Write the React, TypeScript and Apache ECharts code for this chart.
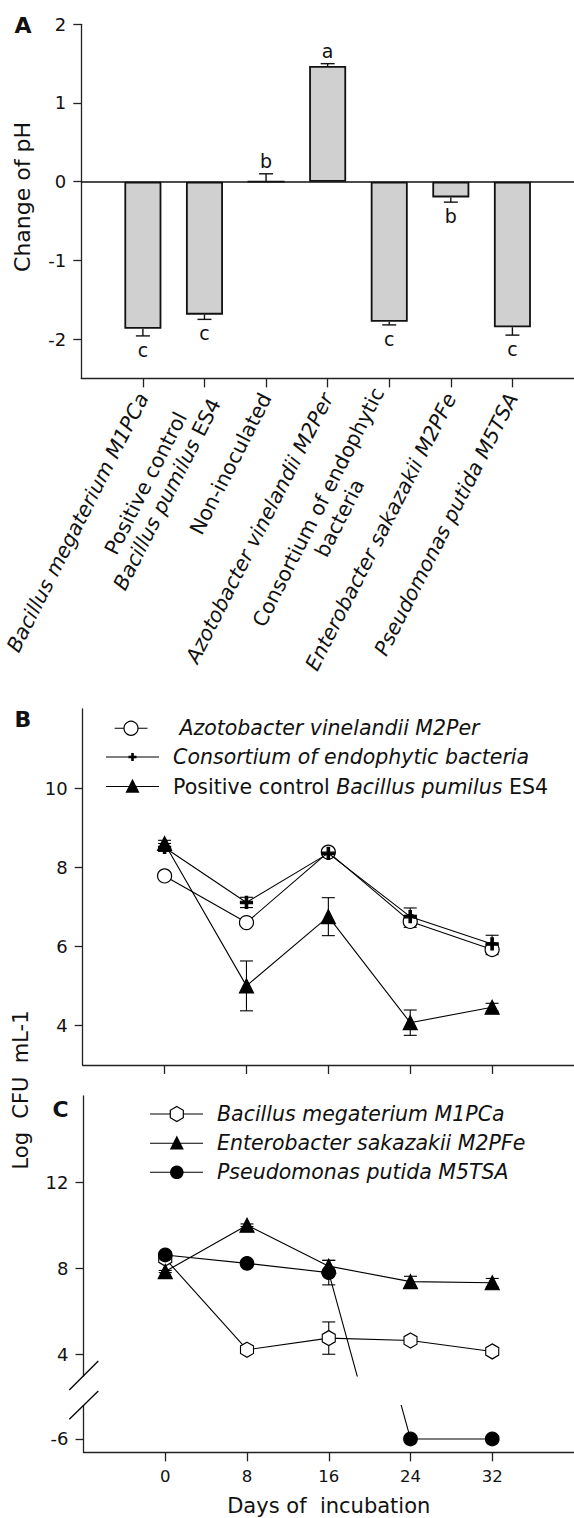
import React, { useEffect, useRef } from 'react';
import * as echarts from 'echarts';

// ---------- Panel A data ----------
const phCategoryLabels = [
  '{i|Bacillus megaterium M1PCa}',
  '{n|Positive control}\n{i|Bacillus pumilus}{n| ES4}',
  '{n|Non-inoculated}',
  '{i|Azotobacter vinelandii M2Per}',
  '{n|Consortium of endophytic}\n{n|bacteria}',
  '{i|Enterobacter sakazakii M2PFe}',
  '{i|Pseudomonas putida M5TSA}',
];
const phChange = [-1.87, -1.69, 0, 1.47, -1.78, -0.2, -1.85];
const phError = [0.09, 0.06, 0.1, 0.03, 0.04, 0.06, 0.1];
const phLetters = ['c', 'c', 'b', 'a', 'c', 'b', 'c'];
const phTicks = [-2, -1, 0, 1, 2];

// ---------- Panels B and C data ----------
const days = [0, 8, 16, 24, 32];
const bTicks = [4, 6, 8, 10];
const cTicks = [4, 8, 12];
const cLowTicks = [-6];

const azotobacter = [7.78, 6.6, 8.38, 6.63, 5.92];
const azotobacterErr = [0.05, 0.05, 0.08, 0.15, 0.13];
const consortium = [8.5, 7.11, 8.35, 6.75, 6.06];
const consortiumErr = [0.1, 0.13, 0.05, 0.22, 0.22];
const positiveControl = [8.6, 5.0, 6.75, 4.07, 4.46];
const positiveControlErr = [0.08, 0.63, 0.48, 0.32, 0.1];

const megaterium = [8.45, 4.22, 4.76, 4.65, 4.14];
const megateriumErr = [0.05, 0.05, 0.75, 0.08, 0.08];
const enterobacter = [7.85, 10.0, 8.1, 7.38, 7.33];
const enterobacterErr = [0.05, 0.06, 0.27, 0.25, 0.2];
const pseudomonas = [8.62, 8.23, 7.8, -6, -6];
const pseudomonasErr = [0.05, 0.05, 0.57, 0, 0];

const FONT = "'DejaVu Sans', sans-serif";
const INK = '#111';
const AX = '#222';

const PLUS = 'path://M4,0H6V4H10V6H6V10H4V6H0V4H4Z';
const HEX = 'path://M0,-1L0.866,-0.5L0.866,0.5L0,1L-0.866,0.5L-0.866,-0.5Z';

function pairs(xs: number[], ys: number[]) {
  return xs.map((x, i) => [x, ys[i]]);
}

function errSeries(xi: number, yi: number, xs: number[], ys: number[], es: number[], cap: number) {
  return {
    type: 'custom',
    xAxisIndex: xi,
    yAxisIndex: yi,
    z: 3,
    silent: true,
    encode: { x: 0, y: 1 },
    data: xs.map((x, i) => [x, ys[i], es[i]]),
    renderItem: (params: any, api: any) => {
      const x = api.value(0);
      const y = api.value(1);
      const e = api.value(2);
      if (!(e > 0)) return null;
      const top = api.coord([x, y + e]);
      const bot = api.coord([x, y - e]);
      const st = { stroke: '#000', lineWidth: 1.1 };
      return {
        type: 'group',
        children: [
          { type: 'line', shape: { x1: top[0], y1: top[1], x2: bot[0], y2: bot[1] }, style: st },
          { type: 'line', shape: { x1: top[0] - cap, y1: top[1], x2: top[0] + cap, y2: top[1] }, style: st },
          { type: 'line', shape: { x1: bot[0] - cap, y1: bot[1], x2: bot[0] + cap, y2: bot[1] }, style: st },
        ],
      };
    },
  };
}

function lineSeries(xi: number, yi: number, data: number[][], symbol: string, size: any, fill: string, z = 4) {
  return {
    type: 'line',
    xAxisIndex: xi,
    yAxisIndex: yi,
    data,
    symbol,
    symbolSize: size,
    showSymbol: true,
    clip: true,
    z,
    lineStyle: { color: '#000', width: 1.1 },
    itemStyle: { color: fill, borderColor: '#000', borderWidth: 1.2 },
    emphasis: { disabled: true },
  };
}

function yAxisBase(grid: number, min: number, max: number, ticks: number[]) {
  return {
    gridIndex: grid,
    type: 'value',
    min,
    max,
    axisLine: { show: true, onZero: false, lineStyle: { color: AX, width: 1.3 } },
    axisTick: { show: true, customValues: ticks, length: 8, lineStyle: { color: AX, width: 1.3 } },
    axisLabel: { show: true, customValues: ticks, margin: 15, color: INK, fontSize: 18, fontFamily: FONT },
    splitLine: { show: false },
  };
}

function xAxisDays(grid: number, show: boolean, labels: boolean) {
  return {
    gridIndex: grid,
    type: 'value',
    min: -8,
    max: 40,
    show,
    axisLine: { show: true, onZero: false, lineStyle: { color: AX, width: 1.3 } },
    axisTick: { show: true, customValues: days, length: 9, lineStyle: { color: AX, width: 1.3 } },
    axisLabel: { show: labels, customValues: days, margin: 16, color: INK, fontSize: 16.5, fontFamily: FONT },
    splitLine: { show: false },
  };
}

function legendText(x: number, y: number, text: string) {
  return {
    type: 'text',
    x,
    y,
    style: {
      text,
      fill: INK,
      font: `20.5px ${FONT}`,
      align: 'left',
      verticalAlign: 'middle',
      rich: {
        i: { fontStyle: 'italic', fontSize: 20.5, fontFamily: FONT, fill: INK },
        n: { fontSize: 20.5, fontFamily: FONT, fill: INK },
      },
    },
  };
}

function hline(x1: number, x2: number, y: number) {
  return { type: 'line', shape: { x1, y1: y, x2, y2: y }, style: { stroke: '#000', lineWidth: 1.1 } };
}
function openCircle(cx: number, cy: number, r: number) {
  return { type: 'circle', shape: { cx, cy, r }, style: { fill: '#fff', stroke: '#000', lineWidth: 1.2 } };
}
function dot(cx: number, cy: number, r: number) {
  return { type: 'circle', shape: { cx, cy, r }, style: { fill: '#000' } };
}
function tri(cx: number, cy: number, s: number) {
  return {
    type: 'polygon',
    shape: { points: [[cx, cy - s * 0.55], [cx + s / 2, cy + s * 0.45], [cx - s / 2, cy + s * 0.45]] },
    style: { fill: '#000' },
  };
}
function plus(cx: number, cy: number, s: number, t: number) {
  return [
    { type: 'rect', shape: { x: cx - s / 2, y: cy - t / 2, width: s, height: t }, style: { fill: '#000' } },
    { type: 'rect', shape: { x: cx - t / 2, y: cy - s / 2, width: t, height: s }, style: { fill: '#000' } },
  ];
}
function hexagon(cx: number, cy: number, w: number, h: number) {
  const a = w / 2;
  const b = h / 2;
  return {
    type: 'polygon',
    shape: {
      points: [[cx, cy - b], [cx + a, cy - b / 2], [cx + a, cy + b / 2], [cx, cy + b], [cx - a, cy + b / 2], [cx - a, cy - b / 2]],
    },
    style: { fill: '#fff', stroke: '#000', lineWidth: 1.2 },
  };
}

export default function App() {
  const ref = useRef<HTMLDivElement>(null);

  useEffect(() => {
    if (!ref.current) return;
    const chart = echarts.init(ref.current, null, { renderer: 'svg' });

    const catPositions = phCategoryLabels.map((_, i) => i + 1);
    const labelRich = {
      i: { fontStyle: 'italic', fontSize: 20.5, fontFamily: FONT, color: INK, align: 'center', lineHeight: 24 },
      n: { fontSize: 20.5, fontFamily: FONT, color: INK, align: 'center', lineHeight: 24 },
    };

    const option: any = {
      animation: false,
      backgroundColor: '#fff',
      textStyle: { fontFamily: FONT },
      grid: [
        { left: 81.3, right: 0, top: 24.3, height: 354.1, outerBoundsMode: 'none', containLabel: false },
        { left: 82.7, right: 0, top: 709, height: 356, outerBoundsMode: 'none', containLabel: false },
        { left: 83.5, right: 0, top: 1096, height: 280, outerBoundsMode: 'none', containLabel: false },
        { left: 83.5, right: 0, top: 1405.6, height: 46.7, outerBoundsMode: 'none', containLabel: false },
      ],
      xAxis: [
        {
          gridIndex: 0,
          type: 'value',
          min: 0,
          max: 8,
          axisLine: { show: true, onZero: false, lineStyle: { color: AX, width: 1.3 } },
          axisTick: { show: true, customValues: catPositions, length: 9, lineStyle: { color: AX, width: 1.3 } },
          axisLabel: {
            show: true,
            customValues: catPositions,
            rotate: 63,
            margin: 16,
            color: INK,
            fontSize: 20.5,
            fontFamily: FONT,
            hideOverlap: false,
            formatter: (v: number) => phCategoryLabels[Math.round(v) - 1] || '',
            rich: labelRich,
          },
          splitLine: { show: false },
        },
        xAxisDays(1, true, false),
        xAxisDays(2, false, false),
        {
          ...xAxisDays(3, true, true),
          name: 'Days of  incubation',
          nameLocation: 'middle',
          nameGap: 43,
          nameMoveOverlap: false,
          nameTextStyle: { color: INK, fontSize: 21, fontFamily: FONT },
        },
      ],
      yAxis: [
        yAxisBase(0, -2.5, 2, phTicks),
        yAxisBase(1, 3, 12, bTicks),
        yAxisBase(2, 3, 16, cTicks),
        yAxisBase(3, -6.62, -4.45, cLowTicks),
      ],
      series: [
        {
          type: 'bar',
          xAxisIndex: 0,
          yAxisIndex: 0,
          data: phChange.map((v, i) => [i + 1, v]),
          barWidth: 37,
          z: 2,
          itemStyle: { color: '#d0d0d0', borderColor: INK, borderWidth: 1.8 },
          emphasis: { disabled: true },
          markLine: {
            silent: true,
            symbol: 'none',
            label: { show: false },
            lineStyle: { color: INK, width: 1.6, type: 'solid' },
            data: [{ yAxis: 0 }],
          },
        },
        {
          type: 'custom',
          xAxisIndex: 0,
          yAxisIndex: 0,
          z: 3,
          silent: true,
          encode: { x: 0, y: 1 },
          data: phChange.map((v, i) => [i + 1, v, phError[i]]),
          renderItem: (params: any, api: any) => {
            const x = api.value(0);
            const v = api.value(1);
            const e = api.value(2);
            const sign = v >= 0 ? 1 : -1;
            const start = api.coord([x, v]);
            const end = api.coord([x, v + sign * e]);
            const st = { stroke: INK, lineWidth: 1.4 };
            return {
              type: 'group',
              children: [
                { type: 'line', shape: { x1: start[0], y1: start[1], x2: end[0], y2: end[1] }, style: st },
                { type: 'line', shape: { x1: end[0] - 7, y1: end[1], x2: end[0] + 7, y2: end[1] }, style: st },
                {
                  type: 'text',
                  x: end[0],
                  y: end[1] + (sign > 0 ? -13 : 14),
                  style: {
                    text: phLetters[params.dataIndex],
                    fill: INK,
                    font: `19px ${FONT}`,
                    align: 'center',
                    verticalAlign: 'middle',
                  },
                },
              ],
            };
          },
        },
        // Panel B
        errSeries(1, 1, days, azotobacter, azotobacterErr, 6.5),
        errSeries(1, 1, days, consortium, consortiumErr, 6.5),
        errSeries(1, 1, days, positiveControl, positiveControlErr, 6.5),
        lineSeries(1, 1, pairs(days, azotobacter), 'circle', 14, '#fff', 4),
        lineSeries(1, 1, pairs(days, consortium), PLUS, 12, '#000', 5),
        lineSeries(1, 1, pairs(days, positiveControl), 'triangle', 14, '#000', 6),
        // Panel C (upper part of broken axis)
        errSeries(2, 2, days, megaterium, megateriumErr, 6.5),
        errSeries(2, 2, days, enterobacter, enterobacterErr, 6.5),
        errSeries(2, 2, days, pseudomonas, pseudomonasErr, 6.5),
        lineSeries(2, 2, pairs(days, megaterium), HEX, [13, 15], '#fff', 4),
        lineSeries(2, 2, pairs(days, enterobacter), 'triangle', 14, '#000', 5),
        lineSeries(2, 2, pairs(days, pseudomonas), 'circle', 13.5, '#000', 6),
        // Panel C (lower part of broken axis)
        lineSeries(3, 3, pairs(days.slice(2), pseudomonas.slice(2)), 'circle', 13.5, '#000', 6),
      ],
      graphic: {
        elements: [
          { type: 'text', x: 23, y: 25, z: 100, style: { text: 'A', font: `bold 22px ${FONT}`, fill: INK, align: 'center', verticalAlign: 'middle' } },
          { type: 'text', x: 23, y: 719, z: 100, style: { text: 'B', font: `bold 22px ${FONT}`, fill: INK, align: 'center', verticalAlign: 'middle' } },
          { type: 'text', x: 60.5, y: 1109, z: 100, style: { text: 'C', font: `bold 22px ${FONT}`, fill: INK, align: 'center', verticalAlign: 'middle' } },
          {
            type: 'text', x: 22, y: 197, rotation: Math.PI / 2, z: 100,
            style: { text: 'Change of pH', font: `22px ${FONT}`, fill: INK, align: 'center', verticalAlign: 'middle' },
          },
          {
            type: 'text', x: 20.5, y: 1090, rotation: Math.PI / 2, z: 100,
            style: { text: 'Log  CFU  mL-1', font: `21px ${FONT}`, fill: INK, align: 'center', verticalAlign: 'middle' },
          },
          // axis break marks
          { type: 'line', z: 100, shape: { x1: 69.3, y1: 1390, x2: 98.3, y2: 1361 }, style: { stroke: '#000', lineWidth: 1.3 } },
          { type: 'line', z: 100, shape: { x1: 69.3, y1: 1419.3, x2: 98.3, y2: 1391 }, style: { stroke: '#000', lineWidth: 1.3 } },
          // legend B
          {
            type: 'group', z: 100,
            children: [
              hline(114.6, 147.5, 728.3), openCircle(131, 728.3, 7),
              legendText(179.4, 728.3, '{i|Azotobacter vinelandii M2Per}'),
              hline(106, 159, 757), ...plus(132.5, 757, 8, 2.6),
              legendText(173.1, 757, '{i|Consortium of endophytic bacteria}'),
              hline(106, 159, 786.5), tri(132.5, 786.5, 14),
              legendText(173.1, 786.5, '{n|Positive control }{i|Bacillus pumilus}{n| ES4}'),
            ],
          },
          // legend C
          {
            type: 'group', z: 100,
            children: [
              hline(150, 203, 1114), hexagon(176.8, 1114, 13, 15),
              legendText(217, 1114, '{i|Bacillus megaterium M1PCa}'),
              hline(150, 203, 1143.3), tri(176.8, 1143.3, 14),
              legendText(217, 1143.3, '{i|Enterobacter sakazakii M2PFe}'),
              hline(150, 203, 1172.3), dot(176.8, 1172.3, 6.8),
              legendText(217, 1172.3, '{i|Pseudomonas putida M5TSA}'),
            ],
          },
        ],
      },
    };

    chart.setOption(option);
    return () => chart.dispose();
  }, []);

  return (
    <div
      ref={ref}
      style={{ position: 'absolute', left: 0, top: 0, width: 574, height: 1518, background: '#fff' }}
    />
  );
}
